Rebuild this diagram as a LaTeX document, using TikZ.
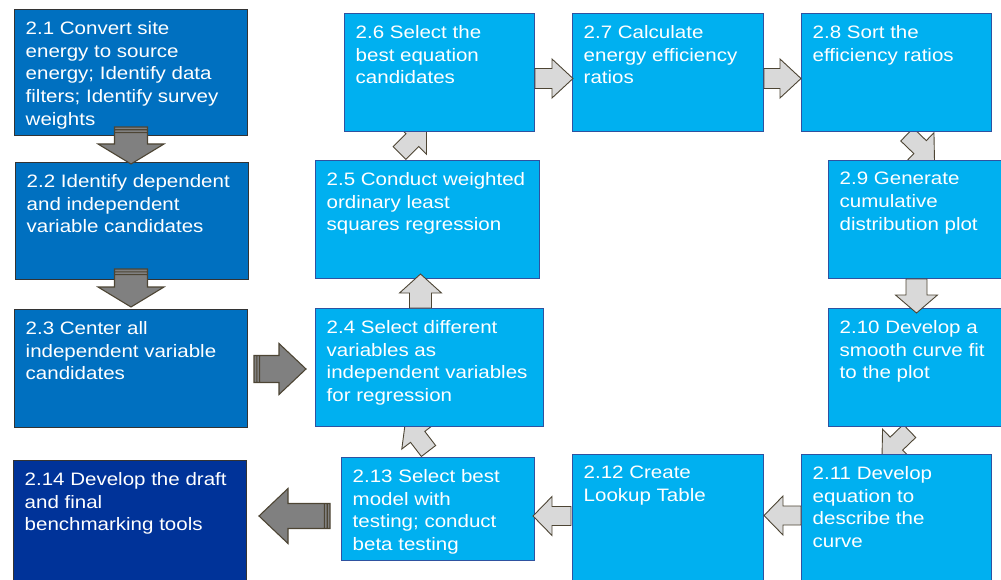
\documentclass[tikz,border=0pt]{standalone}
\usepackage{fontspec}
\newfontfamily\stagefont[FakeStretch=1.14]{Liberation Sans}
\usetikzlibrary{calc,backgrounds}

\definecolor{stagedark}{RGB}{0,112,192}
\definecolor{stagenavy}{RGB}{0,51,153}
\definecolor{stagelight}{RGB}{0,176,240}
\definecolor{stageedge}{RGB}{47,82,160}
\definecolor{arrowedge}{RGB}{77,69,52}
\definecolor{arrowdark}{RGB}{128,128,128}
\definecolor{arrowlight}{RGB}{217,217,217}

\tikzset{
  stage/.style={draw=stageedge, line width=1pt, fill=stagelight, anchor=north west, inner sep=0pt},
  darkstage/.style={stage, draw=black!80, fill=stagedark},
  stagetext/.style={anchor=north west, align=left, inner sep=0pt, text=white,
    font=\stagefont\fontsize{18}{22.8}\selectfont, xshift=11.5pt, yshift=-12pt},
  % block arrow from tail to tip: shaft half width, head half width, head length
  blockarrow/.style n args={3}{to path={
    let \p1=(\tikztostart), \p2=(\tikztotarget),
        \n1={atan2(\y2-\y1,\x2-\x1)}, \n2={veclen(\x2-\x1,\y2-\y1)-#3} in
    ($(\p1)+(\n1+90:#1)$) -- ++(\n1:\n2) -- ++(\n1+90:#2-#1) -- (\p2)
    -- ($(\p1)+(\n1:\n2)+(\n1-90:#2)$) -- ++(\n1+90:#2-#1)
    -- ($(\p1)+(\n1-90:#1)$) -- cycle}},
  tailstripes/.style={to path={
    let \p1=(\tikztostart), \p2=(\tikztotarget),
        \n1={atan2(\y2-\y1,\x2-\x1)} in
    ($(\p1)+(\n1:2.8pt)+(\n1+90:#1)$) -- ++(\n1-90:2*#1)
    ($(\p1)+(\n1:5.6pt)+(\n1+90:#1)$) -- ++(\n1-90:2*#1)}},
  darkarrow/.style={draw=arrowedge, fill=arrowdark, line width=1.1pt, line join=miter},
  lightarrow/.style={draw=arrowedge, fill=arrowlight, line width=0.9pt, line join=miter},
}

\begin{document}
\begin{tikzpicture}[x=1pt,y=-1pt]
  \useasboundingbox (0,0) rectangle (1001,580);
  \clip (0,0) rectangle (1001,580);

  % left column
  \node[darkstage, minimum width=233, minimum height=126,
    label={[stagetext]north west:{2.1 Convert site\\energy to source\\energy; Identify data\\filters; Identify survey\\weights}}] (s21) at (14,9) {};
  \node[darkstage, minimum width=233, minimum height=117,
    label={[stagetext]north west:{2.2 Identify dependent\\and independent\\variable candidates}}] (s22) at (15,162) {};
  \node[darkstage, minimum width=233, minimum height=118,
    label={[stagetext]north west:{2.3 Center all\\independent variable\\candidates}}] (s23) at (14,309) {};
  \node[darkstage, fill=stagenavy, minimum width=233, minimum height=130,
    label={[stagetext]north west:{2.14 Develop the draft\\and final\\benchmarking tools}}] (s214) at (13,460) {};

  % loop of stages
  \node[stage, minimum width=228, minimum height=118,
    label={[stagetext]north west:{2.4 Select different\\variables as\\independent variables\\for regression}}] (s24) at (315,308) {};
  \node[stage, minimum width=224, minimum height=118,
    label={[stagetext]north west:{2.5 Conduct weighted\\ordinary least\\squares regression}}] (s25) at (315,160) {};
  \node[stage, minimum width=190, minimum height=118,
    label={[stagetext]north west:{2.6 Select the\\best equation\\candidates}}] (s26) at (344,13) {};
  \node[stage, minimum width=191, minimum height=118,
    label={[stagetext]north west:{2.7 Calculate\\energy efficiency\\ratios}}] (s27) at (572,13) {};
  \node[stage, minimum width=190, minimum height=118,
    label={[stagetext]north west:{2.8 Sort the\\efficiency ratios}}] (s28) at (801,13) {};
  \node[stage, minimum width=182, minimum height=118,
    label={[stagetext]north west:{2.9 Generate\\cumulative\\distribution plot}}] (s29) at (828,160) {};
  \node[stage, minimum width=182, minimum height=118,
    label={[stagetext]north west:{2.10 Develop a\\smooth curve fit\\to the plot}}] (s210) at (828,308) {};
  \node[stage, minimum width=190, minimum height=136,
    label={[stagetext]north west:{2.11 Develop\\equation to\\describe the\\curve}}] (s211) at (801,454) {};
  \node[stage, minimum width=191, minimum height=136,
    label={[stagetext]north west:{2.12 Create\\Lookup Table}}] (s212) at (572,454) {};
  \node[stage, minimum width=193, minimum height=103,
    label={[stagetext]north west:{2.13 Select best\\model with\\testing; conduct\\beta testing}}] (s213) at (341,457) {};

  % tilted arrows sit behind the boxes
  \begin{scope}[on background layer]
    \draw[lightarrow] ([xshift=-28pt,yshift=7pt]s25.north) to[blockarrow={9pt}{20pt}{20pt}] ([xshift=-13pt,yshift=6pt]s26.south);
    \draw[lightarrow] ([xshift=10.5pt,yshift=-2.5pt]s28.south) to[blockarrow={9pt}{20pt}{20pt}] ([xshift=15pt,yshift=-1pt]s29.north);
    \draw[lightarrow] ([xshift=-10pt,yshift=-4pt]s210.south) to[blockarrow={9pt}{20pt}{20pt}] ([xshift=-14.5pt,yshift=-3.5pt]s211.north);
    \draw[lightarrow] ([xshift=-9.5pt,yshift=6pt]s213.north) to[blockarrow={9pt}{20pt}{20pt}] ([xshift=-24pt,yshift=6pt]s24.south);
  \end{scope}

  % dark arrows with striped tails
  \draw[darkarrow] ([yshift=9pt]s21.south) to[blockarrow={16.5pt}{33pt}{20pt}] ([xshift=-1pt,yshift=-2pt]s22.north)
                   ([yshift=9pt]s21.south) to[tailstripes=16.5pt] ([xshift=-1pt,yshift=-2pt]s22.north);
  \draw[darkarrow] ([xshift=-1pt,yshift=11pt]s22.south) to[blockarrow={16.5pt}{33pt}{20pt}] ([yshift=2pt]s23.north)
                   ([xshift=-1pt,yshift=11pt]s22.south) to[tailstripes=16.5pt] ([yshift=2pt]s23.north);
  \draw[darkarrow] ([xshift=6pt,yshift=-0.5pt]s23.east) to[blockarrow={13.5pt}{25.5pt}{27pt}] ([xshift=-9pt,yshift=-1.5pt]s24.west)
                   ([xshift=6pt,yshift=-0.5pt]s23.east) to[tailstripes=13.5pt] ([xshift=-9pt,yshift=-1.5pt]s24.west);
  \draw[darkarrow] ([xshift=-11pt,yshift=-7pt]s213.west) to[blockarrow={12.5pt}{27.5pt}{29pt}] ([xshift=12pt,yshift=9.5pt]s214.east)
                   ([xshift=-11pt,yshift=-7pt]s213.west) to[tailstripes=12.5pt] ([xshift=12pt,yshift=9.5pt]s214.east);

  % light arrows
  \draw[lightarrow] ([yshift=-6pt]s26.east) to[blockarrow={10pt}{19.5pt}{21pt}] ([xshift=1pt,yshift=-6pt]s27.west);
  \draw[lightarrow] ([yshift=-6pt]s27.east) to[blockarrow={10pt}{19.5pt}{21pt}] ([yshift=-6pt]s28.west);
  \draw[lightarrow] ([xshift=-3pt]s29.south) to[blockarrow={10.5pt}{21pt}{18pt}] ([xshift=-3pt,yshift=-5pt]s210.north);
  \draw[lightarrow] ([yshift=7pt]s211.west) to[blockarrow={9.5pt}{19.5pt}{19pt}] ([yshift=7pt]s212.east);
  \draw[lightarrow] ([xshift=-1pt,yshift=6.5pt]s212.west) to[blockarrow={9.5pt}{19.5pt}{19pt}] ([xshift=-2pt,yshift=-7pt]s213.east);
  \draw[lightarrow] ([xshift=-9pt]s24.north) to[blockarrow={11pt}{21pt}{19pt}] ([xshift=-7pt,yshift=5pt]s25.south);
\end{tikzpicture}
\end{document}
